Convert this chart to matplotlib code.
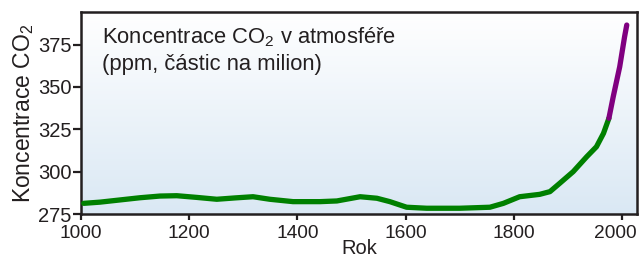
import numpy as np
import matplotlib

matplotlib.use("Agg")
import matplotlib.pyplot as plt
from matplotlib.colors import LinearSegmentedColormap
from matplotlib.transforms import ScaledTranslation

# ice-core record (green) and direct measurements (purple), ppm
ice_years = [1005, 1035, 1072, 1109, 1146, 1177, 1214, 1251, 1285, 1318,
             1349, 1392, 1442, 1473, 1516, 1547, 1571, 1602, 1639, 1700,
             1756, 1781, 1811, 1848, 1867, 1885, 1910, 1935, 1953, 1966, 1976]
ice_ppm = [281.3, 282.0, 283.3, 284.6, 285.6, 285.8, 284.8, 283.7, 284.5, 285.2,
           283.7, 282.3, 282.3, 282.7, 285.2, 284.3, 282.3, 279.0, 278.4, 278.4,
           279.0, 281.3, 285.2, 286.6, 288.2, 293.1, 300.0, 308.8, 314.7, 322.6, 331.5]
meas_years = [1976, 1984, 1996, 2005, 2009]
meas_ppm = [331.5, 344.2, 361.9, 379.6, 386.5]

x_ticks = [1000, 1200, 1400, 1600, 1800, 2000]
y_ticks = [275, 300, 325, 350, 375]

plt.rcParams["font.family"] = ["Liberation Sans", "DejaVu Sans"]
plt.rcParams["mathtext.fontset"] = "custom"
plt.rcParams["mathtext.rm"] = "Liberation Sans"
plt.rcParams["mathtext.it"] = "Liberation Sans"

ink = "#231f20"

fig = plt.figure(figsize=(6.41, 2.58), dpi=100)
ax = fig.add_axes([0.1264, 0.1705, 0.8674, 0.7817])

grad = LinearSegmentedColormap.from_list("bg", ["#dae8f4", "#ffffff"])
ax.imshow(np.linspace(0, 1, 256).reshape(-1, 1)[::-1], cmap=grad,
          extent=[0, 1, 0, 1], transform=ax.transAxes, aspect="auto", zorder=0)

ax.plot(ice_years, ice_ppm, color="#008000", lw=3.8,
        solid_capstyle="round", solid_joinstyle="round", zorder=3)
ax.plot(meas_years, meas_ppm, color="#800080", lw=3.8,
        solid_capstyle="round", solid_joinstyle="round", zorder=3)

ax.set_xlim(1000, 2028)
ax.set_ylim(275, 394)
ax.set_xticks(x_ticks)
ax.set_yticks(y_ticks)

for s in ax.spines.values():
    s.set_color(ink)
    s.set_linewidth(1.8)
ax.tick_params(axis="both", colors=ink, labelsize=14.5, width=1.6)
ax.tick_params(axis="x", length=4, pad=4, labelsize=13.8)
ax.tick_params(axis="y", length=6, pad=1)

# last year label sits a little left of its tick, as in the source
last = ax.get_xticklabels()[-1]
last.set_transform(last.get_transform() + ScaledTranslation(-5 / 72, 0, fig.dpi_scale_trans))

ax.set_xlabel("Rok", fontsize=14.5, color=ink, labelpad=-2)
ax.set_ylabel("Koncentrace CO$_{2}$", fontsize=16.5, color=ink, labelpad=1)

ax.text(0.037, 0.935, "Koncentrace CO$_{2}$ v atmosféře\n(ppm, částic na milion)",
        transform=ax.transAxes, fontsize=15.8, color=ink, va="top", ha="left",
        linespacing=1.3)

fig.savefig("out.png", dpi=100)
